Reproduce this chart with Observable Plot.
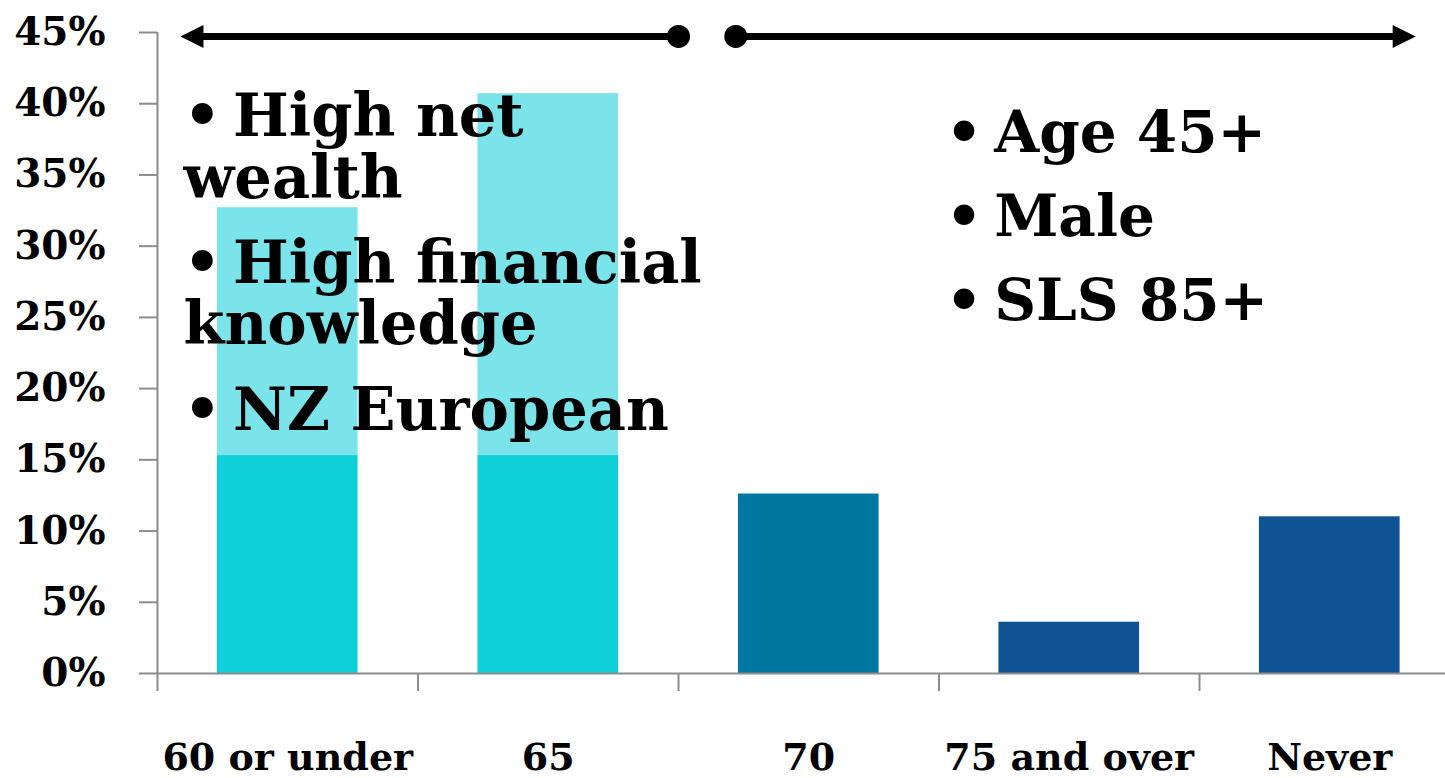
<!DOCTYPE html>
<html>
<head>
<meta charset="utf-8">
<script src="https://cdn.jsdelivr.net/npm/d3@7"></script>
<script src="https://cdn.jsdelivr.net/npm/@observablehq/plot@0.6"></script>
<style>
  html, body { margin: 0; padding: 0; background: #ffffff; }
  #chart svg { display: block; }
</style>
</head>
<body>
<div id="chart"></div>
<script>
// ---- Data ----
const categories = ["60 or under", "65", "70", "75 and over", "Never"];
const baseShare  = [15.3, 15.3, 12.6, 3.6, 11.0];   // lower (or only) segment, %
const totalShare = [32.7, 40.7, 12.6, 3.6, 11.0];   // bar top, %
const baseColors = ["#0fd0d8", "#0fd0d8", "#0077a0", "#0f5395", "#0f5395"];
const upperColor = "#7ae4ea";
const yTickValues = [0, 5, 10, 15, 20, 25, 30, 35, 40, 45];

// Annotation texts
const leftNotes  = ["•\u2009High net\nwealth", "•\u2009High financial\nknowledge", "•\u2009NZ European"];
const rightNotes = ["•\u2009Age 45+", "•\u2009Male", "•\u2009SLS 85+"];

// Annotation placement (in data units of the chart scales)
const leftNoteY  = [33.4, 23.1, 17.1];
const rightNoteY = [36.6, 30.7, 24.8];
const leftNoteX = 0.1, rightNoteX = 3.025;
const arrowY = 44.72;
const arrowSpans = [
  {from: 2.0,  to: 0.088, dir: "left"},
  {from: 2.22, to: 4.83,  dir: "right"}
];

// ---- Build rows ----
const rows = categories.map((c, i) => ({
  i, cat: c, base: baseShare[i], total: totalShare[i], color: baseColors[i]
}));
const barPad = 0.23;

const serif = "DejaVu Serif";
const gray = "#8c8c8c";

// filled triangular arrowhead, tip at origin pointing right
const arrowHead = {
  draw(ctx, size) {
    const s = Math.sqrt(size);
    ctx.moveTo(0, 0);
    ctx.lineTo(-s, -s / 2);
    ctx.lineTo(-s, s / 2);
    ctx.closePath();
  }
};

const chart = Plot.plot({
  width: 1445,
  height: 778,
  marginLeft: 157,
  marginRight: 0,
  marginTop: 32,
  marginBottom: 105,
  style: {background: "#ffffff"},
  x: {domain: [0, 5], range: [157, 1459.5]},
  y: {domain: [0, 45], range: [673, 32]},
  color: {type: "identity"},
  marks: [
    // bars: lower segment
    Plot.rectY(rows, {
      x1: d => d.i + barPad, x2: d => d.i + 1 - barPad,
      y1: 0, y2: "base", fill: "color"
    }),
    // bars: upper segment
    Plot.rectY(rows.filter(d => d.total > d.base), {
      x1: d => d.i + barPad, x2: d => d.i + 1 - barPad,
      y1: "base", y2: "total", fill: upperColor
    }),
    // axis lines
    Plot.ruleX([0], {y1: 0, y2: 45, stroke: gray, strokeWidth: 2}),
    Plot.ruleY([0], {stroke: gray, strokeWidth: 2}),
    // y axis
    Plot.axisY({
      ticks: yTickValues,
      tickFormat: d => d + "%",
      tickSize: 18,
      tickPadding: 34,
      stroke: gray,
      strokeWidth: 2,
      fill: "black",
      fontSize: 39,
      fontFamily: serif,
      fontWeight: "bold",
      label: null
    }),
    // x axis ticks at category boundaries
    Plot.axisX({
      ticks: [0, 1, 2, 3, 4],
      tickSize: 18,
      tickFormat: () => "",
      stroke: gray,
      strokeWidth: 2,
      label: null
    }),
    // x category labels
    Plot.text(rows, {
      x: d => d.i + 0.5, y: 0, text: "cat",
      dy: 96, lineAnchor: "bottom", textAnchor: "middle",
      fontSize: 38, fontFamily: serif, fontWeight: "bold", fill: "black"
    }),
    // arrows
    Plot.ruleY(arrowSpans.filter(d => d.dir === "left"), {
      y: arrowY, x1: "to", x2: "from", insetLeft: 18, stroke: "black", strokeWidth: 7
    }),
    Plot.ruleY(arrowSpans.filter(d => d.dir === "right"), {
      y: arrowY, x1: "from", x2: "to", insetRight: 18, stroke: "black", strokeWidth: 7
    }),
    Plot.dot(arrowSpans, {x: "from", y: arrowY, r: 11.5, fill: "black", stroke: null}),
    Plot.dot(arrowSpans.filter(d => d.dir === "left"), {
      x: "to", y: arrowY, symbol: arrowHead, r: 13, rotate: 180, fill: "black", stroke: null
    }),
    Plot.dot(arrowSpans.filter(d => d.dir === "right"), {
      x: "to", y: arrowY, symbol: arrowHead, r: 13, rotate: 0, fill: "black", stroke: null
    }),
    // annotations
    Plot.text(leftNotes, {
      x: leftNoteX, y: (d, i) => leftNoteY[i], text: d => d,
      textAnchor: "start", lineAnchor: "bottom", lineHeight: 1.05,
      fontSize: 59, fontFamily: serif, fontWeight: "bold", fill: "black"
    }),
    Plot.text(rightNotes, {
      x: rightNoteX, y: (d, i) => rightNoteY[i], text: d => d,
      textAnchor: "start", lineAnchor: "bottom",
      fontSize: 58, fontFamily: serif, fontWeight: "bold", fill: "black"
    })
  ]
});

document.getElementById("chart").appendChild(chart);
</script>
</body>
</html>
